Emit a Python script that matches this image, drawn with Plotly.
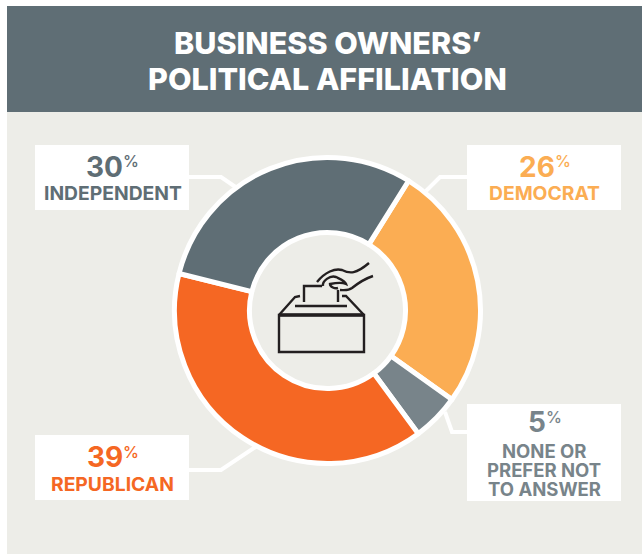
import plotly.graph_objects as go

W, H = 642, 554

# Survey data, in clockwise drawing order
categories = ["DEMOCRAT", "NONE OR<br>PREFER NOT<br>TO ANSWER", "REPUBLICAN", "INDEPENDENT"]
shares = [26, 5, 39, 30]
colors = ["#FBAD53", "#78848A", "#F56723", "#5F6E75"]
title_lines = ["BUSINESS OWNERS’", "POLITICAL AFFILIATION"]

FONT = "Inter"
PANEL = "#EDEDE8"
HEADER = "#5F6E75"
INK = "#231F20"
CX, CY, R = 327.5, 310.5, 153
LABEL_SIZE = 19.3


def px(x):
    return x / W


def py(y):
    return 1 - y / H


def rect(x0, y0, x1, y1, fill):
    return dict(type="rect", xref="paper", yref="paper", x0=px(x0), x1=px(x1),
                y0=py(y1), y1=py(y0), fillcolor=fill, line_width=0, layer="below")


def polyline(points, color, width, layer="below"):
    path = "M " + " L ".join(f"{px(x):.5f},{py(y):.5f}" for x, y in points)
    return dict(type="path", xref="paper", yref="paper", path=path,
                line=dict(color=color, width=width), layer=layer)


def curve(d, color=INK, width=2.4):
    # d holds a start point followed by cubic Bezier triples, in pixels
    start, rest = d[0], d[1:]
    path = f"M {px(start[0]):.5f},{py(start[1]):.5f}"
    for i in range(0, len(rest), 3):
        a, b, c = rest[i:i + 3]
        path += (f" C {px(a[0]):.5f},{py(a[1]):.5f} {px(b[0]):.5f},{py(b[1]):.5f}"
                 f" {px(c[0]):.5f},{py(c[1]):.5f}")
    return dict(type="path", xref="paper", yref="paper", path=path,
                line=dict(color=color, width=width), layer="above")


def text(x, y, s, size, color, weight=700, anchor="center"):
    return dict(xref="paper", yref="paper", x=px(x), y=py(y), text=s, showarrow=False,
                xanchor=anchor, yanchor="middle", align="center",
                font=dict(family=FONT, size=size, color=color, weight=weight))


fig = go.Figure(go.Pie(
    labels=categories,
    values=shares,
    sort=False,
    direction="clockwise",
    rotation=32,
    hole=0.51,
    textinfo="none",
    hoverinfo="label+percent",
    showlegend=False,
    marker=dict(colors=colors, line=dict(color="white", width=5)),
    domain=dict(x=[px(CX - R), px(CX + R)], y=[py(CY + R), py(CY - R)]),
))

shapes = [
    rect(7, 6, W, H, PANEL),
    rect(7, 6, W, 112, HEADER),
    # Leader lines from each label box to the ring
    polyline([(189, 177), (221, 177), (237, 188)], "white", 4),
    polyline([(467, 177), (440, 177), (426, 191)], "white", 4),
    polyline([(467, 432), (452, 432), (445, 412)], "white", 4),
    polyline([(189, 470), (221, 470), (257, 446)], "white", 4),
    # Label boxes
    rect(35, 145, 189, 210, "white"),
    rect(467, 145, 621, 210, "white"),
    rect(35, 435, 189, 500, "white"),
    rect(467, 404, 621, 501, "white"),
    # Ballot box icon
    dict(type="rect", xref="paper", yref="paper", x0=px(279), x1=px(364), y0=py(352), y1=py(315),
         line=dict(color=INK, width=2.4), layer="above"),
    polyline([(279, 315), (364, 315)], INK, 3.4, "above"),
    polyline([(279, 315), (295, 297), (300, 296)], INK, 2.4, "above"),
    polyline([(364, 315), (346, 296), (342, 296)], INK, 2.4, "above"),
    polyline([(295, 306), (347, 306)], INK, 2.4, "above"),
    polyline([(304, 302), (304, 286), (322, 286)], INK, 2.4, "above"),
    polyline([(338, 290), (338, 302)], INK, 2.4, "above"),
    # Hand dropping the ballot
    curve([(317, 282), (325, 272), (335, 268), (342, 270), (350, 274), (356, 274), (369, 263)]),
    curve([(373, 276), (364, 279), (357, 284), (352, 288), (348, 291), (344, 290), (340, 290)]),
    curve([(323, 286), (322, 281), (330, 275), (336, 277), (340, 279), (345, 281), (346, 284),
           (342, 282), (335, 283), (330, 284), (330, 287), (335, 289), (338, 288)]),
]

percent = lambda x, y, c: text(x, y, "%", 16, c, 500, "left")

annotations = [
    text(327, 42.5, title_lines[0], 30.5, "white", 800),
    text(328, 78, title_lines[1], 30.5, "white", 800),
    text(104.5, 167, str(shares[3]), 28, colors[3]),
    percent(121, 161, colors[3]),
    text(112.5, 193, categories[3], LABEL_SIZE, colors[3]),
    text(536.5, 167, str(shares[0]), 28, colors[0]),
    percent(553, 161, colors[0]),
    text(544.5, 193, categories[0], LABEL_SIZE, colors[0]),
    text(105, 457, str(shares[2]), 28, colors[2]),
    percent(121, 452, colors[2]),
    text(112, 484, categories[2], LABEL_SIZE, colors[2]),
    text(537, 422, str(shares[1]), 28, colors[1]),
    percent(544, 417, colors[1]),
    text(544, 451, "NONE OR", 18.5, colors[1]),
    text(544, 470, "PREFER NOT", 18.5, colors[1]),
    text(544, 489, "TO ANSWER", 18.5, colors[1]),
]

fig.update_layout(
    width=W, height=H,
    margin=dict(l=0, r=0, t=0, b=0),
    paper_bgcolor="white",
    shapes=shapes,
    annotations=annotations,
)

fig.write_html("out.html", config=dict(displayModeBar=False))
